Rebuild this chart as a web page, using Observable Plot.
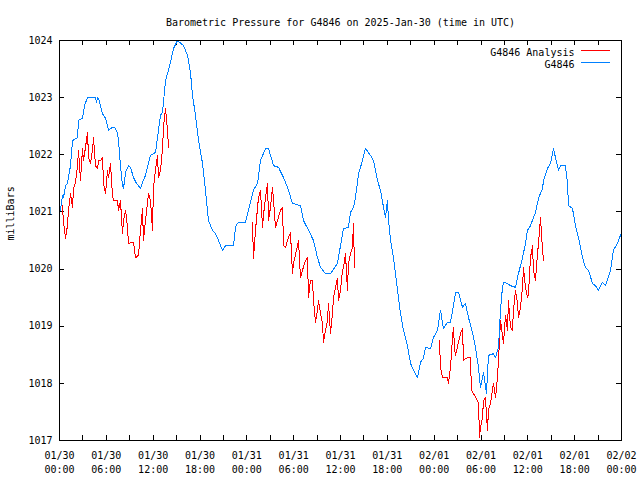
<!DOCTYPE html>
<html><head><meta charset="utf-8">
<script src="https://cdn.jsdelivr.net/npm/d3@7"></script>
<script src="https://cdn.jsdelivr.net/npm/@observablehq/plot@0.6"></script>
<style>html,body{margin:0;padding:0;background:#fff} svg{display:block}</style>
</head><body><div id="chart"></div>
<script>
const title = "Barometric Pressure for G4846 on 2025-Jan-30 (time in UTC)";
const yLabel = "milliBars";
const seriesNames = ["G4846 Analysis", "G4846"];
const seriesColors = ["#ff0000", "#0080ff"];
const startTime = "2025-01-30T00:00:00Z";
const endTime = "2025-02-02T00:00:00Z";
const yTicks = [1017, 1018, 1019, 1020, 1021, 1022, 1023, 1024];

// G4846 station observations: hours since start, pressure (mb)
const stationHours = [0.00,0.13,0.38,0.51,0.77,1.02,1.41,1.67,2.31,2.43,2.95,3.20,3.59,4.61,4.74,4.87,5.00,5.51,5.89,6.28,6.79,7.05,7.43,7.56,7.81,8.07,8.20,8.46,8.84,9.10,9.48,9.86,10.38,10.63,11.02,11.40,11.66,12.30,12.55,12.94,13.20,13.58,13.84,14.22,14.60,15.12,15.89,16.40,16.78,17.04,17.42,17.81,18.32,18.70,19.09,19.60,19.99,20.37,20.88,21.27,22.29,22.55,22.80,23.19,23.83,24.21,24.85,25.37,25.75,26.39,26.78,27.42,28.06,28.70,29.21,29.85,30.87,31.26,31.90,32.54,33.05,33.44,34.08,34.72,35.61,36.00,36.38,37.02,37.28,37.66,37.92,38.31,38.82,39.20,39.84,40.23,40.74,41.12,41.51,41.76,42.02,42.15,42.41,42.79,43.30,43.69,44.07,44.58,44.97,45.35,45.86,46.25,46.63,46.89,47.53,47.91,48.43,48.81,49.19,49.71,50.09,50.48,50.73,51.12,51.63,52.01,52.40,52.91,53.29,53.68,53.93,54.32,54.70,54.96,55.60,55.86,56.24,56.50,56.75,56.88,57.39,57.78,58.42,58.67,59.06,59.32,59.70,59.96,60.34,60.72,60.98,61.37,61.88,62.01,62.52,62.90,63.29,63.54,63.93,64.18,64.82,65.08,65.21,65.72,66.10,66.49,67.00,67.38,67.77,68.28,68.66,69.05,69.56,69.95,70.59,70.97,71.48,72.00];
const stationPressure = [1020.99,1021.03,1021.29,1021.25,1021.46,1021.50,1021.81,1022.25,1022.30,1022.60,1022.64,1022.86,1023.00,1023.00,1022.92,1023.00,1022.99,1022.72,1022.64,1022.43,1022.48,1022.48,1022.39,1022.25,1021.81,1021.46,1021.41,1021.69,1021.81,1021.78,1021.60,1021.50,1021.41,1021.52,1021.64,1021.85,1021.99,1022.04,1022.30,1022.69,1022.74,1023.30,1023.42,1023.62,1023.86,1024.00,1023.91,1023.74,1023.44,1023.04,1022.69,1022.25,1021.85,1021.38,1020.85,1020.68,1020.62,1020.50,1020.33,1020.41,1020.41,1020.73,1020.80,1020.82,1020.82,1021.03,1021.38,1021.50,1021.90,1022.11,1022.11,1021.81,1021.78,1021.60,1021.43,1021.15,1021.11,1020.85,1020.68,1020.50,1020.20,1020.03,1019.92,1019.92,1020.10,1020.41,1020.71,1020.73,1020.99,1021.08,1021.25,1021.67,1021.90,1022.11,1021.99,1021.90,1021.55,1021.38,1021.08,1020.90,1021.20,1020.85,1020.50,1020.20,1019.63,1019.22,1018.93,1018.66,1018.35,1018.23,1018.10,1018.37,1018.44,1018.63,1018.61,1018.80,1018.93,1019.28,1018.96,1019.07,1019.07,1019.36,1019.59,1019.59,1019.33,1019.40,1019.15,1018.89,1018.63,1018.28,1017.93,1018.19,1017.82,1018.49,1018.52,1018.45,1018.63,1019.28,1019.68,1019.77,1019.75,1019.71,1019.68,1019.85,1020.06,1020.20,1020.45,1020.68,1020.76,1020.90,1020.99,1021.24,1021.41,1021.55,1021.76,1021.85,1022.11,1021.95,1021.73,1021.81,1021.81,1021.50,1021.11,1021.06,1020.76,1020.55,1020.20,1020.03,1019.98,1019.75,1019.71,1019.63,1019.77,1019.71,1019.98,1020.33,1020.45,1020.64];

// G4846 Analysis, three runs: hours since start, pressure (mb)
const run1Hours = [0.38,0.51,0.77,1.02,1.15,1.41,1.67,1.79,2.05,2.31,2.43,2.69,2.95,3.07,3.33,3.59,3.72,3.97,4.23,4.36,4.61,4.87,5.00,5.25,5.51,5.64,5.89,6.15,6.28,6.53,6.79,6.92,7.43,7.56,7.81,8.07,8.20,8.46,8.71,8.84,9.48,9.74,10.12,10.38,10.63,10.76,11.02,11.40,11.66,11.91,12.04,12.30,12.55,12.68,12.94,13.20,13.32,13.58,13.84,13.96];
const run1Pressure = [1021.11,1020.82,1020.54,1020.76,1021.03,1021.32,1021.08,1021.41,1021.52,1021.81,1022.08,1021.55,1022.11,1021.90,1022.13,1022.39,1021.95,1021.85,1022.08,1022.30,1021.81,1021.76,1021.90,1021.90,1021.95,1021.50,1021.32,1021.72,1021.60,1021.85,1021.29,1021.20,1021.20,1021.03,1021.20,1020.62,1020.85,1021.03,1020.73,1020.45,1020.47,1020.20,1020.24,1020.68,1021.06,1020.50,1020.85,1021.32,1021.20,1020.68,1021.43,1021.73,1021.99,1021.60,1021.73,1022.11,1022.48,1022.81,1022.43,1022.13];
const run2Hours = [24.72,24.85,25.11,25.49,25.75,26.01,26.13,26.39,26.65,26.78,27.03,27.29,27.42,27.67,27.93,28.31,28.57,28.70,28.95,29.34,29.59,29.85,29.98,30.49,30.62,30.87,31.13,31.51,31.77,31.90,32.15,32.41,32.54,32.80,33.05,33.18,33.44,33.69,33.82,34.08,34.33,34.46,34.72,34.97,35.10,35.36,35.61,35.74,36.00,36.25,36.38,36.64,36.89,37.02,37.28,37.53,37.66,37.79];
const run2Pressure = [1020.82,1020.19,1020.68,1021.25,1021.38,1020.73,1020.94,1021.25,1021.50,1020.85,1021.08,1021.43,1021.20,1020.73,1020.85,1021.03,1021.08,1020.41,1020.38,1020.55,1020.64,1019.92,1020.10,1020.41,1020.50,1019.85,1019.98,1020.15,1020.20,1019.50,1019.80,1019.80,1019.45,1019.07,1019.28,1019.45,1019.22,1019.05,1018.72,1018.93,1019.10,1019.40,1018.87,1019.22,1019.50,1019.68,1019.84,1019.45,1019.63,1019.98,1020.03,1020.27,1019.63,1020.10,1020.27,1020.38,1020.80,1020.03];
const run3Hours = [48.68,48.81,49.07,49.71,49.83,50.09,50.35,50.48,50.60,50.73,51.12,51.37,51.63,51.76,52.01,52.65,52.78,53.04,53.55,53.68,53.81,53.93,54.19,54.32,54.57,54.83,54.96,55.21,55.47,55.60,55.86,56.11,56.24,56.50,56.75,56.88,57.14,57.39,57.52,57.78,58.03,58.16,58.42,58.67,58.80,59.06,59.32,59.44,59.70,59.96,60.08,60.34,60.60,60.72,60.98,61.24,61.37,61.62,61.88,62.01];
const run3Pressure = [1018.75,1018.28,1018.10,1018.10,1018.00,1018.28,1018.80,1018.98,1018.63,1018.49,1018.72,1018.87,1018.96,1018.40,1018.44,1018.45,1017.88,1017.82,1017.70,1017.65,1017.05,1017.23,1017.40,1017.70,1017.75,1017.18,1017.53,1017.65,1017.88,1018.00,1017.75,1018.10,1018.40,1019.10,1018.84,1018.70,1019.19,1018.93,1019.45,1018.98,1018.93,1019.28,1019.63,1019.40,1019.15,1019.33,1019.68,1020.03,1019.68,1019.50,1019.57,1020.20,1020.41,1019.98,1019.80,1020.27,1020.45,1020.90,1020.33,1020.15];

const t0 = new Date(startTime), t1 = new Date(endTime);
const toDate = h => new Date(+t0 + h * 3600000);
const station = stationHours.map((h, i) => ({time: toDate(h), p: stationPressure[i]}));
const analysis = [];
[[run1Hours, run1Pressure], [run2Hours, run2Pressure], [run3Hours, run3Pressure]].forEach(([hs, ps], r) =>
  hs.forEach((h, i) => analysis.push({time: toDate(h), p: ps[i], run: r})));

const majorTicks = d3.utcHour.every(6).range(t0, new Date(+t1 + 1));
const minorTicks = d3.utcHour.every(3).range(t0, new Date(+t1 + 1));

const W = 640, H = 480, mL = 59, mR = 19, mT = 40, mB = 40;
const innerW = W - mL - mR, innerH = H - mT - mB, tick = 5;
const font = "'DejaVu Sans Mono', monospace";

const chart = Plot.plot({
  width: W, height: H,
  marginLeft: mL, marginRight: mR, marginTop: mT, marginBottom: mB,
  style: {fontFamily: font, fontSize: "10px", color: "black", background: "white", overflow: "visible"},
  x: {type: "utc", domain: [t0, t1]},
  y: {domain: [1017, 1024]},
  marks: [
    Plot.axisX(majorTicks, {anchor: "bottom", tickSize: 0, tickPadding: 9, lineHeight: 1.35,
      tickFormat: d3.utcFormat("%m/%d\n%H:%M"), label: null, fill: "black"}),
    Plot.axisY(yTicks, {anchor: "left", tickSize: 0, tickPadding: 7, tickFormat: d => String(d), label: null, fill: "black"}),
    Plot.ruleX(minorTicks, {x: d => d, insetTop: innerH - tick, stroke: "black", shapeRendering: "crispEdges"}),
    Plot.ruleX(minorTicks, {x: d => d, insetBottom: innerH - tick, stroke: "black", shapeRendering: "crispEdges"}),
    Plot.ruleY(yTicks, {y: d => d, insetRight: innerW - tick, stroke: "black", shapeRendering: "crispEdges"}),
    Plot.ruleY(yTicks, {y: d => d, insetLeft: innerW - tick, stroke: "black", shapeRendering: "crispEdges"}),
    Plot.line(analysis, {x: "time", y: "p", z: "run", stroke: seriesColors[0], strokeWidth: 1, shapeRendering: "crispEdges"}),
    Plot.line(station, {x: "time", y: "p", stroke: seriesColors[1], strokeWidth: 1, shapeRendering: "crispEdges"}),
    Plot.frame({stroke: "black", shapeRendering: "crispEdges"}),
    Plot.text([title], {frameAnchor: "top", dy: -22, fill: "black"}),
    Plot.text([yLabel], {frameAnchor: "left", dx: -49, rotate: -90, fill: "black"}),
    Plot.text([seriesNames[0]], {frameAnchor: "top-right", dx: -47, dy: 8, textAnchor: "end", fill: "black"}),
    Plot.text([seriesNames[1]], {frameAnchor: "top-right", dx: -47, dy: 20, textAnchor: "end", fill: "black"})
  ]
});

// legend swatches
const svg = d3.select(chart);
seriesColors.forEach((c, i) => {
  svg.append("line")
    .attr("x1", W - mR - 40).attr("x2", W - mR - 11)
    .attr("y1", mT + 10.5 + i * 12).attr("y2", mT + 10.5 + i * 12)
    .attr("stroke", c).attr("stroke-width", 1).attr("shape-rendering", "crispEdges");
});
document.getElementById("chart").appendChild(chart);
</script>
</body></html>
